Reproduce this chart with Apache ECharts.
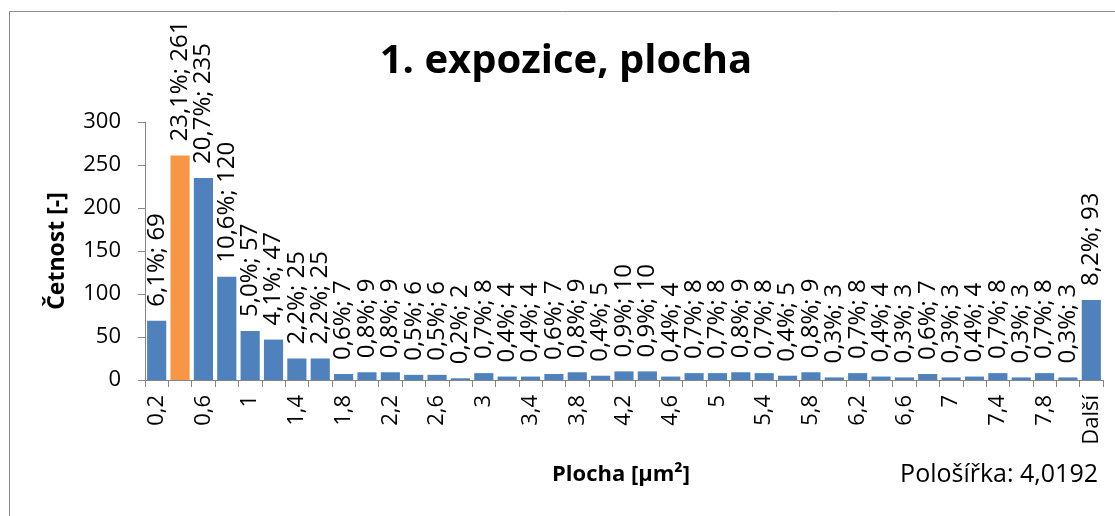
<!DOCTYPE html>
<html>
<head>
<meta charset="utf-8">
<script src="https://cdn.jsdelivr.net/npm/echarts@6/dist/echarts.min.js"></script>
<style>
html,body{margin:0;padding:0;background:#fff;}
#chart{width:1115px;height:516px;}
</style>
</head>
<body>
<div id="chart"></div>
<script>
var categories = ["0,2","0,4","0,6","0,8","1","1,2","1,4","1,6","1,8","2","2,2","2,4","2,6","2,8","3","3,2","3,4","3,6","3,8","4","4,2","4,4","4,6","4,8","5","5,2","5,4","5,6","5,8","6","6,2","6,4","6,6","6,8","7","7,2","7,4","7,6","7,8","8","Další"];
var counts = [69,261,235,120,57,47,25,25,7,9,9,6,6,2,8,4,4,7,9,5,10,10,4,8,8,9,8,5,9,3,8,4,3,7,3,4,8,3,8,3,93];
var percents = ["6,1","23,1","20,7","10,6","5,0","4,1","2,2","2,2","0,6","0,8","0,8","0,5","0,5","0,2","0,7","0,4","0,4","0,6","0,8","0,4","0,9","0,9","0,4","0,7","0,7","0,8","0,7","0,4","0,8","0,3","0,7","0,4","0,3","0,6","0,3","0,4","0,7","0,3","0,7","0,3","8,2"];
var highlightIndex = 1;
var yTicks = {min:0, max:300, interval:50};
var titleText = "1. expozice, plocha";
var xTitle = "Plocha [µm²]";
var yTitle = "Četnost [-]";
var noteText = "Pološířka: 4,0192";

var FONT = "'Open Sans', 'Noto Sans', sans-serif";
var chart = echarts.init(document.getElementById('chart'));
var data = counts.map(function(v,i){
  return {value:v, itemStyle:{color: i===highlightIndex ? '#F79646' : '#4F81BD'}};
});
chart.setOption({
  animation:false,
  grid:{left:145, right:12, top:122, bottom:136},
  xAxis:{
    type:'category', data:categories,
    axisLine:{lineStyle:{color:'#868686', width:1}},
    axisTick:{show:true, interval:0, length:7, lineStyle:{color:'#868686'}},
    axisLabel:{interval:1, rotate:90, fontSize:22, fontFamily:FONT, color:'#000', margin:15}
  },
  yAxis:{
    type:'value', min:yTicks.min, max:yTicks.max, interval:yTicks.interval,
    splitLine:{show:false},
    axisLine:{show:true, lineStyle:{color:'#868686', width:1}},
    axisTick:{show:true, length:7, lineStyle:{color:'#868686'}},
    axisLabel:{fontSize:22, fontFamily:FONT, color:'#000', margin:24},
    name:yTitle, nameLocation:'middle', nameGap:76, nameRotate:90,
    nameTextStyle:{fontSize:23, fontWeight:'bold', fontFamily:FONT, color:'#000'}
  },
  series:[{
    type:'bar', data:data, barCategoryGap:'18%',
    label:{
      show:true, position:'top', rotate:90, align:'left', verticalAlign:'middle',
      distance:14, fontSize:24, fontFamily:FONT, color:'#000',
      formatter:function(p){ return percents[p.dataIndex] + '%; ' + p.value; }
    }
  }],
  graphic:[
    {type:'rect', left:7, top:9, shape:{width:1130, height:530}, style:{fill:'none', stroke:'#8c8c8c', lineWidth:1}, z:-1},
    {type:'text', x:566, y:62, style:{text:titleText, font:'bold 40px '+FONT, fill:'#000', textAlign:'center', textVerticalAlign:'middle'}},
    {type:'text', x:621, y:475, style:{text:xTitle, font:'bold 22px '+FONT, fill:'#000', textAlign:'center', textVerticalAlign:'middle'}},
    {type:'text', x:1098, y:475, style:{text:noteText, font:'25px '+FONT, fill:'#000', textAlign:'right', textVerticalAlign:'middle'}}
  ]
});
</script>
</body>
</html>
